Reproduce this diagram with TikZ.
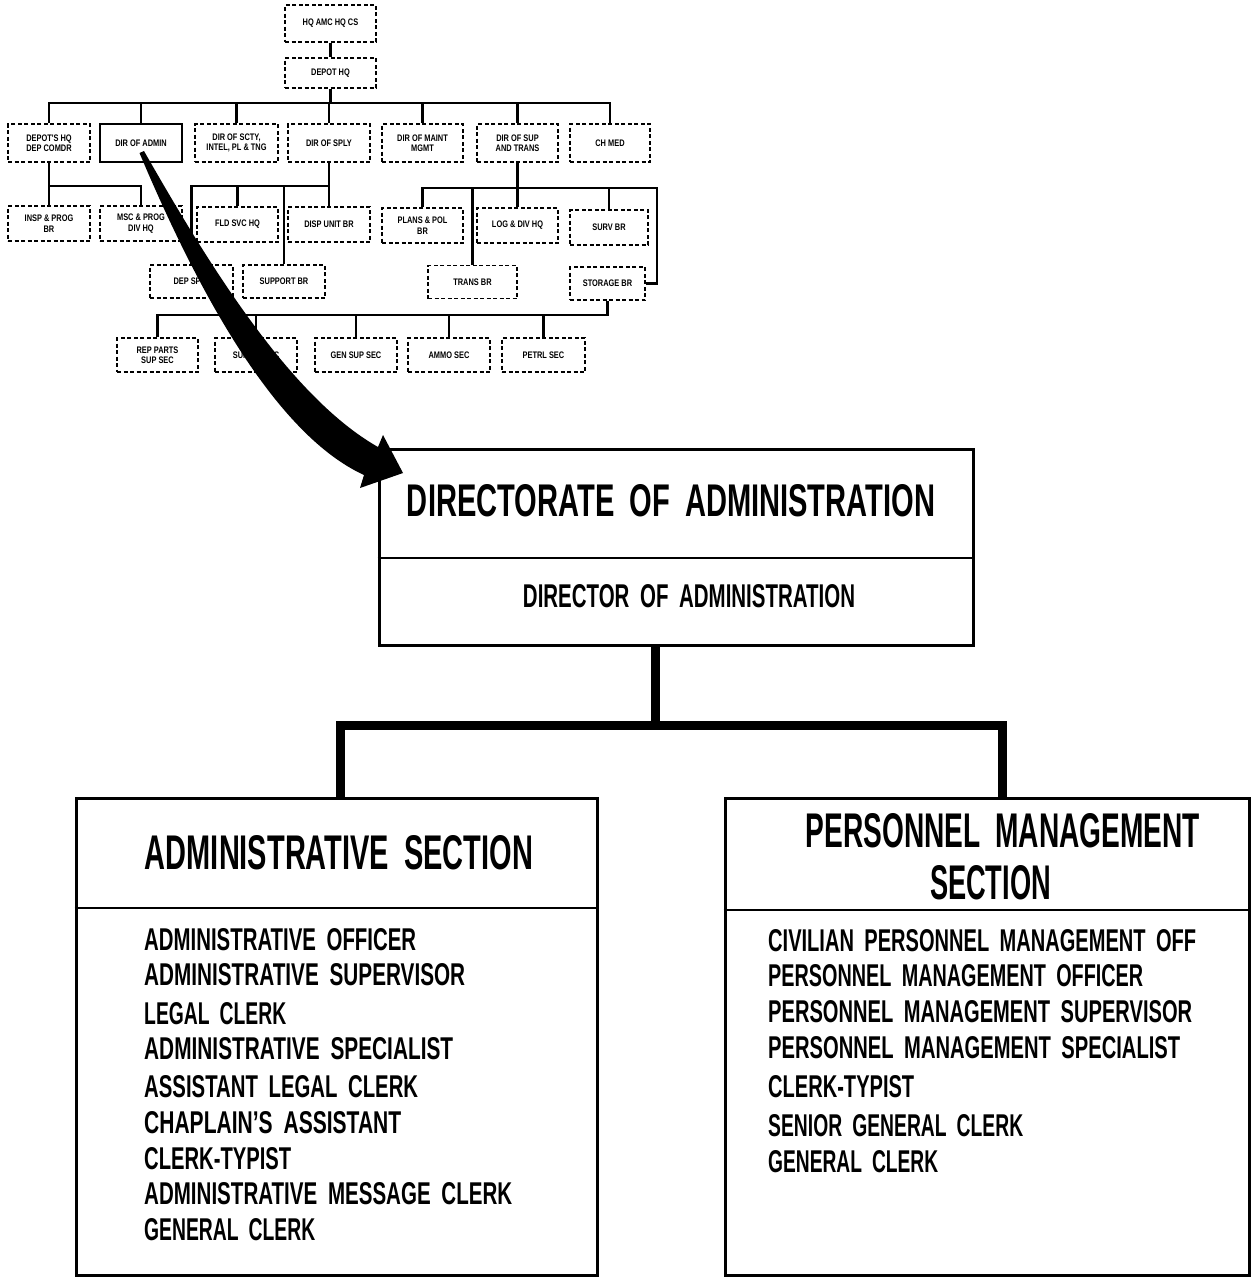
\documentclass[tikz,border=0pt]{standalone}
\usepackage{fontspec}
\setmainfont{Liberation Sans}
\newfontfamily\smf[FakeStretch=0.78]{Liberation Sans}
\newcommand{\fitt}[3]{\resizebox{#1pt}{#2pt}{\bfseries\spaceskip=0.52em\relax #3}}
\begin{document}
\begin{tikzpicture}[x=1pt,y=-1pt,
  sbox/.style={draw, dash pattern=on 4pt off 2.5pt, line width=1.2pt, inner sep=0pt,
    align=center, font=\smf\bfseries\fontsize{9.5}{10.5}\selectfont},
  sboxsolid/.style={draw, line width=1.5pt, inner sep=0pt, align=center,
    font=\smf\bfseries\fontsize{9.5}{10.5}\selectfont},
  sconn/.style={line width=2.8pt},
  bigbox/.style={draw, line width=3pt, inner sep=0pt},
  bigconn/.style={line width=9pt},
  lbl/.style={inner sep=0pt}]
\useasboundingbox (0,0) rectangle (1253,1277);
\fill[white] (0,0) rectangle (1253,1277);

% ---------------- small chart ----------------
\node[sbox, minimum width=91pt, minimum height=37pt] (top) at (330.5,23.5) {HQ AMC HQ CS};
\node[sbox, minimum width=91pt, minimum height=30pt] (depot) at (330.5,73) {DEPOT HQ};

\node[sbox, minimum width=82pt, minimum height=38pt] (b1) at (49,143) {DEPOT'S HQ\\DEP COMDR};
\node[sboxsolid, minimum width=82pt, minimum height=38pt] (b2) at (141,143) {DIR OF ADMIN};
\node[sbox, minimum width=83pt, minimum height=38pt] (b3) at (236.5,143) {DIR OF SCTY,\\INTEL, PL \& TNG};
\node[sbox, minimum width=82pt, minimum height=38pt] (b4) at (329,143) {DIR OF SPLY};
\node[sbox, minimum width=81pt, minimum height=38pt] (b5) at (422.5,143) {DIR OF MAINT\\MGMT};
\node[sbox, minimum width=81pt, minimum height=38pt] (b6) at (517.5,143) {DIR OF SUP\\AND TRANS};
\node[sbox, minimum width=80pt, minimum height=38pt] (b7) at (610,143) {CH MED};

\node[sbox, minimum width=82pt, minimum height=35pt] (r2a) at (49,223.5) {INSP \& PROG\\BR};
\node[sbox, minimum width=82pt, minimum height=35pt] (r2b) at (141,223.5) {MSC \& PROG\\DIV HQ};
\node[sbox, minimum width=81pt, minimum height=35pt] (fld) at (237.5,224.5) {FLD SVC HQ};
\node[sbox, minimum width=82pt, minimum height=35pt] (disp) at (329,224.5) {DISP UNIT BR};
\node[sbox, minimum width=81pt, minimum height=35pt] (plans) at (422.5,225.5) {PLANS \& POL\\BR};
\node[sbox, minimum width=81pt, minimum height=35pt] (logd) at (517.5,225.5) {LOG \& DIV HQ};
\node[sbox, minimum width=78pt, minimum height=35pt] (surv) at (609,227.5) {SURV BR};

\node[sbox, minimum width=83pt, minimum height=33pt] (dep) at (191.5,281.5) {DEP SPLY};
\node[sbox, minimum width=82pt, minimum height=33pt] (supp) at (284,281.5) {SUPPORT BR};
\node[sbox, minimum width=89pt, minimum height=33pt] (trans) at (472.5,282) {TRANS BR};
\node[sbox, minimum width=75pt, minimum height=33pt] (stor) at (607.5,283.5) {STORAGE BR};

\node[sbox, minimum width=81pt, minimum height=34pt] (rep) at (157.5,355) {REP PARTS\\SUP SEC};
\node[sbox, minimum width=82pt, minimum height=34pt] (sply) at (256,355) {SUPPLY SEC};
\node[sbox, minimum width=82pt, minimum height=34pt] (gen) at (356,355) {GEN SUP SEC};
\node[sbox, minimum width=82pt, minimum height=34pt] (ammo) at (449,355) {AMMO SEC};
\node[sbox, minimum width=83pt, minimum height=34pt] (petrl) at (543.5,355) {PETRL SEC};

\coordinate (bus1) at (330.5,103);
\coordinate (bus2) at (329,186);
\coordinate (bus3) at (49,186);
\coordinate (bus4) at (517.5,188);
\coordinate (c657) at (657,283.5);
\coordinate (bus5) at (607.5,315);

\draw[sconn] (top.south) -- (depot.north);
\draw[sconn] (depot.south) -- (bus1);
\draw[sconn] (b1.north) |- (bus1) -| (b7.north);
\foreach \n in {b2,b3,b4,b5,b6} \draw[sconn] (\n.north) -- (\n.north |- bus1);
\draw[sconn] (b1.south) -- (r2a.north);
\draw[sconn] (bus3) -| (r2b.north);
\draw[sconn] (b4.south) -- (disp.north);
\draw[sconn] (bus2) -| (dep.north);
\draw[sconn] (fld.north) -- (fld.north |- bus2);
\draw[sconn] (supp.north) -- (supp.north |- bus2);
\draw[sconn] (b6.south) -- (logd.north);
\draw[sconn] (plans.north) |- (bus4) -| (c657) -- (stor.east);
\draw[sconn] (trans.north) -- (trans.north |- bus4);
\draw[sconn] (surv.north) -- (surv.north |- bus4);
\draw[sconn] (stor.south) -- (bus5) -| (rep.north);
\foreach \n in {sply,gen,ammo,petrl} \draw[sconn] (\n.north) -- (\n.north |- bus5);

% ---------------- big chart ----------------
\node[bigbox, minimum width=594pt, minimum height=196pt] (dir) at (676,547) {};
\draw[line width=2.5pt] (dir.west |- 0,558) -- (dir.east |- 0,558);
\node[lbl] (dirt) at (671,501) {\fitt{528}{32}{DIRECTORATE OF ADMINISTRATION}};
\node[lbl] (dirs) at (689,596) {\fitt{332}{23}{DIRECTOR OF ADMINISTRATION}};

\node[bigbox, minimum width=521pt, minimum height=477pt] (adm) at (336.5,1036.5) {};
\draw[line width=2.5pt] (adm.west |- 0,908) -- (adm.east |- 0,908);
\node[lbl] (admt) at (339,853) {\fitt{388}{34}{ADMINISTRATIVE SECTION}};

\node[bigbox, minimum width=524pt, minimum height=477pt] (pm) at (987,1036.5) {};
\draw[line width=2.5pt] (pm.west |- 0,910) -- (pm.east |- 0,910);
\node[lbl] (pmt1) at (1003,831) {\fitt{394}{34}{PERSONNEL MANAGEMENT}};
\node[lbl] (pmt2) at (990.5,883) {\fitt{121}{34}{SECTION}};

\coordinate (j) at (655,725);
\coordinate (jl) at (340,725);
\coordinate (jr) at (1002,725);
\draw[bigconn] (j |- dir.south) -- (j);
\draw[bigconn, line join=miter] (jl |- adm.north) -- (jl) -- (jr) -- (jr |- pm.north);

% admin items
\foreach \y/\w/\t [count=\i] in {
  940/272/ADMINISTRATIVE OFFICER,
  974.5/321/ADMINISTRATIVE SUPERVISOR,
  1014/142/LEGAL CLERK,
  1049/309/ADMINISTRATIVE SPECIALIST,
  1086.5/274/ASSISTANT LEGAL CLERK,
  1122.5/257/CHAPLAIN'S ASSISTANT,
  1159/147/CLERK-TYPIST,
  1193.5/368/ADMINISTRATIVE MESSAGE CLERK,
  1230/171/GENERAL CLERK}
  \node[lbl, anchor=west] (a\i) at (144,\y) {\fitt{\w}{22}{\t}};
% personnel items
\foreach \y/\w/\t [count=\i] in {
  941/428/CIVILIAN PERSONNEL MANAGEMENT OFF,
  976/375/PERSONNEL MANAGEMENT OFFICER,
  1012/424/PERSONNEL MANAGEMENT SUPERVISOR,
  1048/412/PERSONNEL MANAGEMENT SPECIALIST,
  1087/146/CLERK-TYPIST,
  1126/255/SENIOR GENERAL CLERK,
  1162/170/GENERAL CLERK}
  \node[lbl, anchor=west] (p\i) at (768,\y) {\fitt{\w}{22}{\t}};

% ---------------- big curved arrow ----------------
\fill[black] (144,151) .. controls (209,265) and (290,397) .. (378,447)
  -- (383,435) -- (403,473) -- (360,488) -- (364,475)
  .. controls (270,432) and (191,275) .. (139.5,153) -- cycle;
\end{tikzpicture}
\end{document}
